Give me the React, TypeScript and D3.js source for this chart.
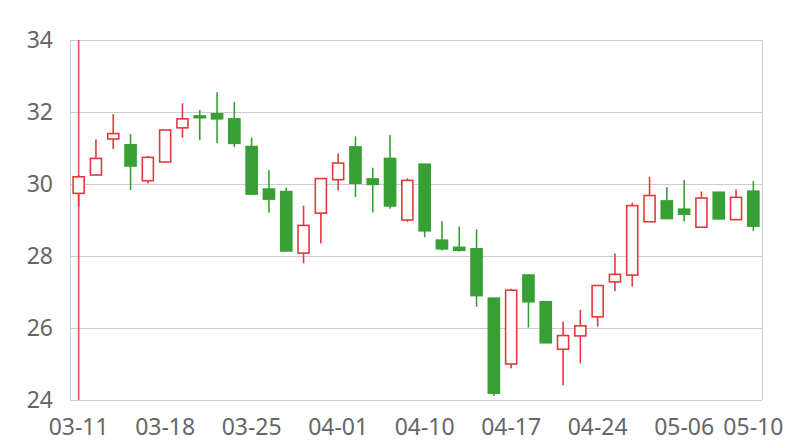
import React, { useEffect, useRef } from "react";
import * as d3 from "d3";

const dates = [
  "03-11", "03-12", "03-13", "03-14", "03-15",
  "03-18", "03-19", "03-20", "03-21", "03-22",
  "03-25", "03-26", "03-27", "03-28", "03-29",
  "04-01", "04-02", "04-03", "04-04", "04-08",
  "04-10", "04-11", "04-12", "04-15", "04-16",
  "04-17", "04-18", "04-19", "04-22", "04-23",
  "04-24", "04-25", "04-26", "04-29", "04-30",
  "05-06", "05-07", "05-08", "05-09", "05-10",
];
const opens = [
  29.74, 30.25, 31.25, 31.09, 30.09, 30.61, 31.56, 31.89, 31.95, 31.81,
  31.04, 29.86, 29.79, 28.08, 29.19, 30.12, 31.03, 30.14, 30.71, 29.0,
  30.55, 28.44, 28.24, 28.2, 26.83, 25.0, 27.47, 26.73, 25.41, 25.78,
  26.31, 27.28, 27.47, 28.95, 29.53, 29.3, 28.8, 29.77, 29.01, 29.8,
];
const closes = [
  30.2, 30.71, 31.4, 30.5, 30.74, 31.5, 31.81, 31.84, 31.81, 31.13,
  29.72, 29.58, 28.14, 28.85, 30.15, 30.58, 30.02, 29.99, 29.39, 30.1,
  28.7, 28.2, 28.16, 26.9, 24.19, 27.05, 26.73, 25.59, 25.79, 26.06,
  27.18, 27.49, 29.4, 29.68, 29.04, 29.16, 29.61, 29.03, 29.63, 28.83,
];
const highs = [
  30.25, 31.24, 31.94, 31.39, 30.78, 31.5, 32.24, 32.06, 32.55, 32.28,
  31.29, 30.38, 29.9, 29.4, 30.15, 30.85, 31.32, 30.45, 31.36, 30.16,
  30.55, 28.97, 28.82, 28.74, 26.83, 27.09, 27.5, 26.73, 26.18, 26.5,
  27.18, 28.07, 29.48, 30.2, 29.92, 30.11, 29.79, 29.77, 29.85, 30.08,
];
const lows = [
  29.37, 30.25, 30.97, 29.83, 30.02, 30.61, 31.29, 31.22, 31.13, 31.02,
  29.72, 29.2, 28.14, 27.8, 28.35, 29.82, 29.64, 29.21, 29.31, 28.95,
  28.52, 28.15, 28.12, 26.59, 24.11, 24.88, 26.01, 25.59, 24.41, 25.02,
  26.04, 27.03, 27.15, 28.95, 29.04, 28.96, 28.8, 29.03, 29.01, 28.7,
];
const yTicks = [24, 26, 28, 30, 32, 34];
const xTickLabels = ["03-11", "03-18", "03-25", "04-01", "04-10", "04-17", "04-24", "05-06", "05-10"];
const markerDate = "03-11";

const W = 800;
const H = 440;
const margin = { top: 40, right: 38, bottom: 40, left: 70 };
const UP = "#e5383c";
const DOWN = "#37a034";
const FONT = "'Noto Sans', 'Open Sans', sans-serif";

export default function App() {
  const ref = useRef<SVGSVGElement>(null);

  useEffect(() => {
    const svg = d3.select(ref.current);
    svg.selectAll("*").remove();
    const iw = W - margin.left - margin.right;
    const ih = H - margin.top - margin.bottom;

    const x = d3.scaleBand<string>().domain(dates).range([0, iw]).paddingInner(0.36).paddingOuter(0.18);
    const y = d3.scaleLinear().domain([24, 34]).range([ih, 0]);

    const g = svg.append("g").attr("transform", `translate(${margin.left},${margin.top})`);

    svg.append("defs").append("clipPath").attr("id", "plotclip")
      .append("rect").attr("x", 0).attr("y", 0).attr("width", iw).attr("height", ih);

    // grid
    g.selectAll(".grid").data(yTicks).enter().append("line")
      .attr("x1", 0).attr("x2", iw)
      .attr("y1", (d) => y(d)).attr("y2", (d) => y(d))
      .attr("stroke", "#cccccc").attr("stroke-width", 1).attr("shape-rendering", "crispEdges");
    g.append("line").attr("x1", 0).attr("x2", 0).attr("y1", 0).attr("y2", ih)
      .attr("stroke", "#cccccc").attr("shape-rendering", "crispEdges");
    g.append("line").attr("x1", iw).attr("x2", iw).attr("y1", 0).attr("y2", ih)
      .attr("stroke", "#cccccc").attr("shape-rendering", "crispEdges");

    // y labels
    g.selectAll(".ylab").data(yTicks).enter().append("text")
      .attr("x", -17).attr("y", (d) => y(d)).attr("dy", "0.35em")
      .attr("text-anchor", "end")
      .attr("font-family", FONT).attr("font-size", 23)
      .attr("fill", "#666").text((d) => String(d));

    // x labels
    g.selectAll(".xlab").data(xTickLabels).enter().append("text")
      .attr("x", (d) => (x(d) as number) + x.bandwidth() / 2)
      .attr("y", ih + 35)
      .attr("text-anchor", "middle")
      .attr("font-family", FONT).attr("font-size", 23)
      .attr("fill", "#666").text((d) => d);

    const data = dates.map((d, i) => ({ d, o: opens[i], c: closes[i], h: highs[i], l: lows[i] }));
    const cg = g.append("g").attr("clip-path", "url(#plotclip)");

    // marker line
    cg.append("line")
      .attr("x1", (x(markerDate) as number) + x.bandwidth() / 2)
      .attr("x2", (x(markerDate) as number) + x.bandwidth() / 2)
      .attr("y1", 0).attr("y2", ih)
      .attr("stroke", UP).attr("stroke-opacity", 0.85).attr("stroke-width", 1.6);

    const cand = cg.selectAll(".c").data(data).enter().append("g");
    cand.append("line")
      .attr("x1", (d) => (x(d.d) as number) + x.bandwidth() / 2)
      .attr("x2", (d) => (x(d.d) as number) + x.bandwidth() / 2)
      .attr("y1", (d) => y(d.h)).attr("y2", (d) => y(d.l))
      .attr("stroke", (d) => (d.c >= d.o ? UP : DOWN)).attr("stroke-width", 1.6);
    cand.append("rect")
      .attr("x", (d) => x(d.d) as number)
      .attr("width", x.bandwidth())
      .attr("y", (d) => y(Math.max(d.o, d.c)))
      .attr("height", (d) => Math.max(1, Math.abs(y(d.o) - y(d.c))))
      .attr("fill", (d) => (d.c >= d.o ? "#ffffff" : DOWN))
      .attr("stroke", (d) => (d.c >= d.o ? UP : DOWN))
      .attr("stroke-width", 1.6);
  }, []);

  return (
    <div style={{ position: "fixed", left: 0, top: 0, width: W, height: H, background: "#fff" }}>
      <svg ref={ref} width={W} height={H} />
    </div>
  );
}
